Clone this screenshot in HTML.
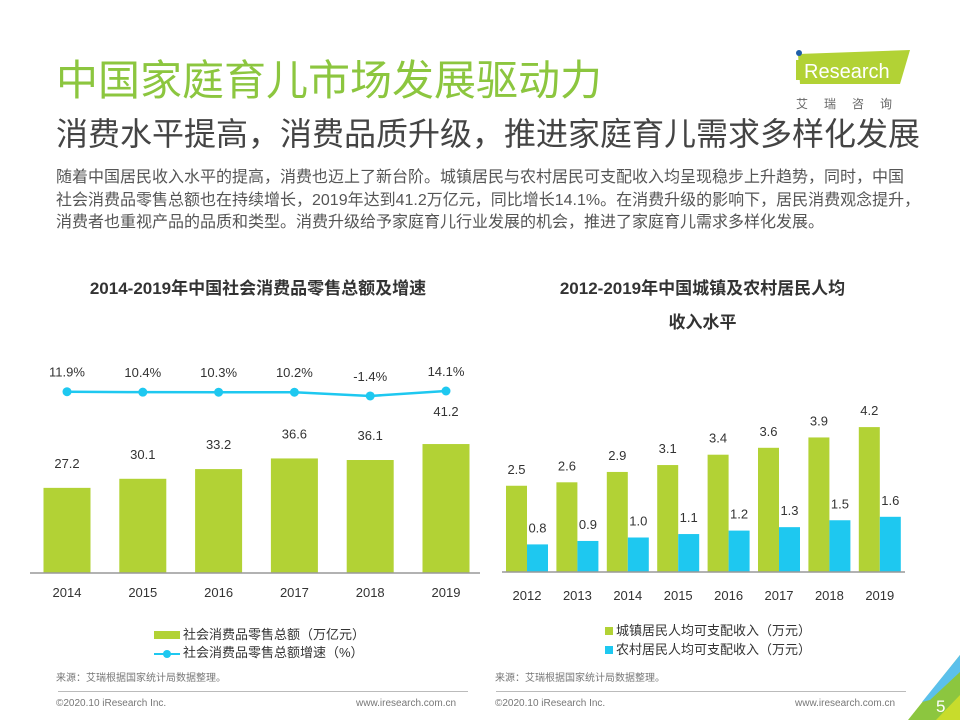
<!DOCTYPE html>
<html><head><meta charset="utf-8">
<style>
body{margin:0;width:960px;height:720px;overflow:hidden;background:#fff;font-family:"Liberation Sans","Noto Sans CJK SC",sans-serif;position:relative}
.a{position:absolute;white-space:nowrap}
</style></head><body>
<div class="a" style="left:56px;top:56px;font-size:42px;color:#8cc63f;line-height:50px">中国家庭育儿市场发展驱动力</div>
<div class="a" style="left:56px;top:114px;font-size:32px;color:#444;line-height:40px">消费水平提高，消费品质升级，推进家庭育儿需求多样化发展</div>
<div class="a" style="left:56px;top:167px;font-size:16px;color:#555;line-height:22.5px;letter-spacing:0px">随着中国居民收入水平的提高，消费也迈上了新台阶。城镇居民与农村居民可支配收入均呈现稳步上升趋势，同时，中国<br>社会消费品零售总额也在持续增长，2019年达到41.2万亿元，同比增长14.1%。在消费升级的影响下，居民消费观念提升，<br>消费者也重视产品的品质和类型。消费升级给予家庭育儿行业发展的机会，推进了家庭育儿需求多样化发展。</div>
<svg class="a" style="left:790px;top:48px" width="125" height="65">
<polygon points="8,6 120,2 110,36 10,36" fill="#b2d235"/>
<circle cx="9" cy="5" r="3" fill="#1f5fa8"/>
<text x="14" y="30" font-size="20" fill="#fff" font-family="Liberation Sans">Research</text>
<rect x="6" y="12" width="4" height="20" fill="#b2d235"/>
<text x="6" y="60" font-size="12" fill="#666" font-family="Noto Sans CJK SC" letter-spacing="16">艾瑞咨询</text>
</svg>
<div class="a" style="left:30px;width:456px;top:274px;text-align:center;font-size:17px;font-weight:bold;color:#333">2014-2019年中国社会消费品零售总额及增速</div>
<div class="a" style="left:500px;width:405px;top:272px;text-align:center;font-size:17px;font-weight:bold;color:#333;line-height:34px">2012-2019年中国城镇及农村居民人均<br>收入水平</div>
<svg class="a" id="c" style="left:0;top:0" width="960" height="720"></svg>
<div class="a" style="left:154px;top:624px;font-size:13px;color:#333"><span style="display:inline-block;width:26px;height:8px;background:#b2d235;margin-right:3px"></span>社会消费品零售总额（万亿元）</div>
<div class="a" style="left:154px;top:642px;font-size:13px;color:#333"><span style="display:inline-block;width:26px;height:10px;position:relative;vertical-align:middle;margin-right:3px"><span style="position:absolute;left:0;top:4px;width:26px;height:2px;background:#1ec8f0"></span><span style="position:absolute;left:9px;top:1px;width:8px;height:8px;border-radius:50%;background:#1ec8f0"></span></span>社会消费品零售总额增速（%）</div>
<div class="a" style="left:605px;top:620px;font-size:13px;color:#333"><span style="display:inline-block;width:8px;height:8px;background:#b2d235;margin-right:3px"></span>城镇居民人均可支配收入（万元）</div>
<div class="a" style="left:605px;top:639px;font-size:13px;color:#333"><span style="display:inline-block;width:8px;height:8px;background:#1ec8f0;margin-right:3px"></span>农村居民人均可支配收入（万元）</div>
<div class="a" style="left:56px;top:669px;font-size:10px;color:#777">来源：艾瑞根据国家统计局数据整理。</div>
<div class="a" style="left:495px;top:669px;font-size:10px;color:#777">来源：艾瑞根据国家统计局数据整理。</div>
<div class="a" style="left:58px;top:691px;width:410px;height:1px;background:#bbb"></div>
<div class="a" style="left:496px;top:691px;width:410px;height:1px;background:#bbb"></div>
<div class="a" style="left:56px;top:698px;font-size:10px;color:#777">©2020.10 iResearch Inc.</div>
<div class="a" style="left:356px;top:698px;font-size:10px;color:#777">www.iresearch.com.cn</div>
<div class="a" style="left:495px;top:698px;font-size:10px;color:#777">©2020.10 iResearch Inc.</div>
<div class="a" style="left:795px;top:698px;font-size:10px;color:#777">www.iresearch.com.cn</div>
<svg class="a" style="left:900px;top:650px" width="60" height="70">
<polygon points="60,5 60,70 8,70" fill="#8cc63f"/>
<polygon points="60,5 60,22 30,50 22,52" fill="#5bc0eb"/>
<polygon points="60,45 60,70 36,70" fill="#c8dc2c"/>
<text x="36" y="62" font-size="17" fill="#fff" font-family="Liberation Sans">5</text>
</svg>
<script>
const retailYears=["2014","2015","2016","2017","2018","2019"];
const retailTotal=[27.2,30.1,33.2,36.6,36.1,41.2];
const retailGrowth=[11.9,10.4,10.3,10.2,-1.4,14.1];
const incomeYears=["2012","2013","2014","2015","2016","2017","2018","2019"];
const urbanIncome=[2.5,2.6,2.9,3.1,3.4,3.6,3.9,4.2];
const ruralIncome=[0.8,0.9,1.0,1.1,1.2,1.3,1.5,1.6];
const NS="http://www.w3.org/2000/svg",svg=document.getElementById('c');
function mk(t,a,txt){const e=document.createElementNS(NS,t);for(const k in a)e.setAttribute(k,a[k]);if(txt!=null)e.textContent=txt;svg.appendChild(e);return e;}
const green="#b2d235",blue="#1ec8f0",tc="#333";
const lBase=573,lx=i=>67+i*75.8,ly=v=>lBase-v*3.13,gy=v=>391+(14.1-v)*0.32;
retailTotal.forEach((v,i)=>{
 let r=mk('rect',{x:lx(i)-23.5,y:ly(v),width:47,height:lBase-ly(v),fill:green});
 
 
 let t=mk('text',{x:lx(i),y:ly(v)-(i==5?28:20),'text-anchor':'middle','font-size':13,fill:tc},v.toFixed(1));
 
 
 let y=mk('text',{x:lx(i),y:597,'text-anchor':'middle','font-size':13,fill:tc},retailYears[i]);
 
 
});
let ax=mk('line',{x1:30,x2:480,y1:lBase,y2:lBase,stroke:'#999','stroke-width':1.5});


let pl=mk('polyline',{points:retailGrowth.map((v,i)=>lx(i)+','+gy(v)).join(' '),fill:'none',stroke:blue,'stroke-width':2.5});


retailGrowth.forEach((v,i)=>{
 let c=mk('circle',{cx:lx(i),cy:gy(v),r:4.5,fill:blue});
 
 
 let t=mk('text',{x:lx(i),y:gy(v)-15,'text-anchor':'middle','font-size':13,fill:tc},v.toFixed(1)+'%');
 
 
});
const rBase=572,rx=i=>527+i*50.4,ry=v=>rBase-v*34.5;
incomeYears.forEach((yr,i)=>{
 let g=mk('rect',{x:rx(i)-21,y:ry(urbanIncome[i]),width:21,height:rBase-ry(urbanIncome[i]),fill:green});
 
 
 let b=mk('rect',{x:rx(i),y:ry(ruralIncome[i]),width:21,height:rBase-ry(ruralIncome[i]),fill:blue});
 
 
 let t1=mk('text',{x:rx(i)-10.5,y:ry(urbanIncome[i])-12,'text-anchor':'middle','font-size':13,fill:tc},urbanIncome[i].toFixed(1));
 
 
 let t2=mk('text',{x:rx(i)+10.5,y:ry(ruralIncome[i])-12,'text-anchor':'middle','font-size':13,fill:tc},ruralIncome[i].toFixed(1));
 
 
 let y=mk('text',{x:rx(i),y:600,'text-anchor':'middle','font-size':13,fill:tc},yr);
 
 
});
let ax2=mk('line',{x1:502,x2:905,y1:rBase,y2:rBase,stroke:'#999','stroke-width':1.5});


</script>
</body></html>
